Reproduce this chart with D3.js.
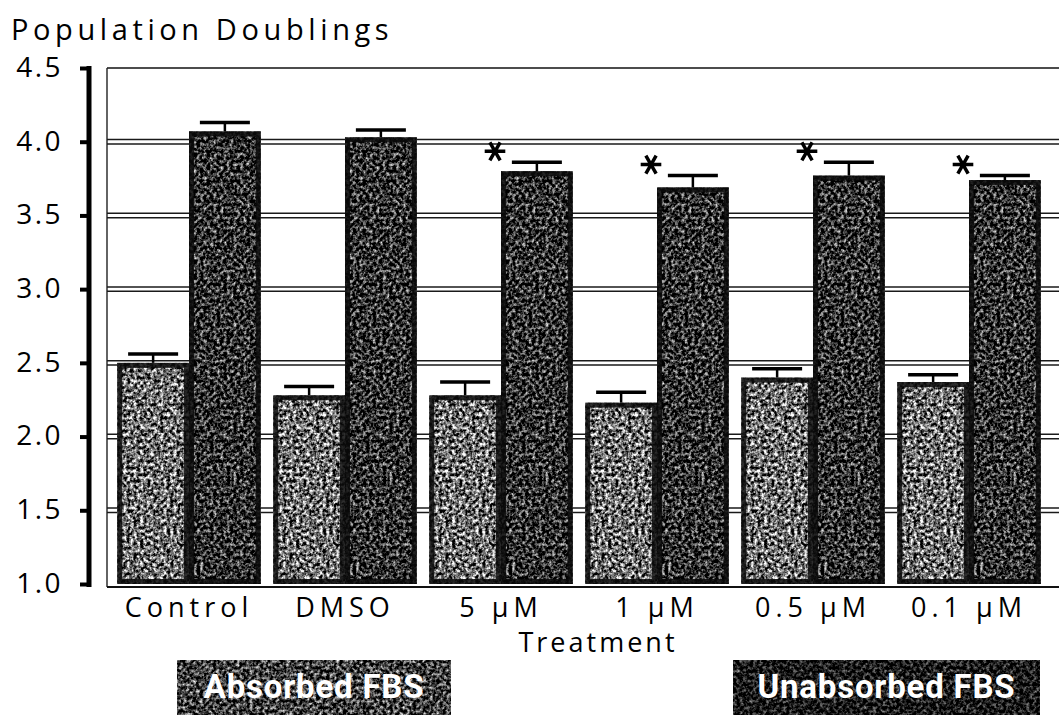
<!DOCTYPE html>
<html><head><meta charset="utf-8">
<script src="https://cdn.jsdelivr.net/npm/d3@7"></script>
<style>body{margin:0;background:#fff}svg{display:block}</style>
</head><body>
<svg id="c" width="1059" height="715"></svg>
<script>
const categories = ["Control", "DMSO", "5 \u00b5M", "1 \u00b5M", "0.5 \u00b5M", "0.1 \u00b5M"];
const absorbed = [2.50, 2.28, 2.28, 2.23, 2.40, 2.37];
const absorbedErr = [0.06, 0.06, 0.09, 0.07, 0.06, 0.05];
const unabsorbed = [4.07, 4.03, 3.80, 3.69, 3.77, 3.74];
const unabsorbedErr = [0.06, 0.05, 0.06, 0.08, 0.09, 0.03];
const significant = [false, false, true, true, true, true];
const yTicks = [1.0, 1.5, 2.0, 2.5, 3.0, 3.5, 4.0, 4.5];
const seriesNames = ["Absorbed FBS", "Unabsorbed FBS"];

const svg = d3.select("#c");
const FONT = "'Open Sans', 'DejaVu Sans', sans-serif";

// noise filters
const defs = svg.append("defs");
function noiseFilter(id, a, b, freq, seed) {
  const f = defs.append("filter").attr("id", id).attr("x", 0).attr("y", 0).attr("width", "100%").attr("height", "100%")
    .attr("color-interpolation-filters", "sRGB");
  f.append("feTurbulence").attr("type", "fractalNoise").attr("baseFrequency", freq).attr("numOctaves", 3).attr("seed", seed).attr("result", "t");
  const row = `${a} 0 0 0 ${b}`;
  f.append("feColorMatrix").attr("in", "t").attr("type", "matrix")
    .attr("values", `${row} ${row} ${row} 0 0 0 0 1`).attr("result", "g");
  f.append("feComposite").attr("in", "g").attr("in2", "SourceGraphic").attr("operator", "in");
}
noiseFilter("nLight", 2.4, -0.77, 0.3, 4);
noiseFilter("nDark", 2.0, -0.82, 0.3, 9);
noiseFilter("nLegA", 1.9, -0.7, 0.3, 2);
noiseFilter("nLegB", 1.3, -0.55, 0.3, 7);

const y = d3.scaleLinear().domain([1, 4.5]).range([584, 68]);
const x = d3.scaleBand().domain(categories).range([111, 1047]).paddingInner(0.08).paddingOuter(0.04);
const sub = d3.scaleBand().domain(seriesNames).range([0, x.bandwidth()]);

// frame
const frameLeft = 107, frameRight = 1062;
svg.append("line").attr("x1", frameLeft).attr("x2", frameRight).attr("y1", y(4.5)).attr("y2", y(4.5))
  .attr("stroke", "#111").attr("stroke-width", 1.6);
svg.append("line").attr("x1", frameLeft).attr("x2", frameLeft).attr("y1", y(4.5)).attr("y2", y(1) + 3)
  .attr("stroke", "#222").attr("stroke-width", 1.4);
svg.append("line").attr("x1", frameLeft).attr("x2", frameRight).attr("y1", y(1) + 3).attr("y2", y(1) + 3)
  .attr("stroke", "#111").attr("stroke-width", 2);

// double gridlines
const grid = svg.append("g");
yTicks.filter(t => t > 1 && t < 4.5).forEach(t => {
  [-2.2, 2.2].forEach(o => {
    grid.append("line").attr("x1", frameLeft).attr("x2", frameRight)
      .attr("y1", y(t) + o).attr("y2", y(t) + o).attr("stroke", "#1a1a1a").attr("stroke-width", 1.5);
  });
});

// y axis
const yAxis = d3.axisLeft(y).tickValues(yTicks).tickFormat(d3.format(".1f")).tickSize(9).tickPadding(17);
const ga = svg.append("g").attr("transform", "translate(89,0)").call(yAxis);
ga.select(".domain").attr("stroke", "#000").attr("stroke-width", 5).attr("d", `M0,${y(4.5) - 2}V${y(1) + 3}`);
ga.selectAll(".tick line").attr("stroke", "#000").attr("stroke-width", 4);
ga.selectAll(".tick text").attr("font-family", FONT).attr("font-size", 28).attr("fill", "#000")
  .attr("letter-spacing", 2.5).attr("dy", "0.3em");

// bars
const groups = svg.append("g").selectAll("g").data(categories).join("g")
  .attr("transform", d => `translate(${x(d)},0)`);

function drawBars(vals, errs, name, filt) {
  const bw = sub.bandwidth();
  groups.append("rect").attr("x", sub(name)).attr("width", bw)
    .attr("y", (d, i) => y(vals[i])).attr("height", (d, i) => y(1) - y(vals[i]))
    .attr("fill", "#777").attr("filter", `url(#${filt})`);
  groups.append("rect").attr("x", sub(name) + 2.5).attr("width", bw - 5)
    .attr("y", (d, i) => y(vals[i]) + 2.5).attr("height", (d, i) => y(1) - y(vals[i]) - 5)
    .attr("fill", "none").attr("stroke", "#0a0a0a").attr("stroke-width", 5).attr("stroke-opacity", 0.85);
  // error bars
  const cx = sub(name) + bw / 2;
  groups.append("line").attr("x1", cx).attr("x2", cx)
    .attr("y1", (d, i) => y(vals[i])).attr("y2", (d, i) => y(vals[i] + errs[i]))
    .attr("stroke", "#000").attr("stroke-width", 2.5);
  groups.append("line").attr("x1", cx - 25).attr("x2", cx + 25)
    .attr("y1", (d, i) => y(vals[i] + errs[i])).attr("y2", (d, i) => y(vals[i] + errs[i]))
    .attr("stroke", "#000").attr("stroke-width", 3.5);
}
drawBars(absorbed, absorbedErr, seriesNames[0], "nLight");
drawBars(unabsorbed, unabsorbedErr, seriesNames[1], "nDark");

// asterisks
groups.filter((d, i) => significant[i]).append("path")
  .attr("d", d3.symbol(d3.symbolAsterisk, 300)())
  .attr("transform", d => {
    const i = categories.indexOf(d);
    return `translate(${sub(seriesNames[1]) - 6},${y(unabsorbed[i] + unabsorbedErr[i]) - 11}) rotate(90)`;
  })
  .attr("stroke", "#000").attr("stroke-width", 3.5).attr("fill", "none");

// x labels
svg.append("g").selectAll("text").data(categories).join("text")
  .attr("x", d => x(d) + x.bandwidth() / 2).attr("y", 617)
  .attr("text-anchor", "middle").attr("font-family", FONT).attr("font-size", 27)
  .attr("letter-spacing", 5)
  .text(d => d);

// titles
svg.append("text").attr("x", 11).attr("y", 40).attr("font-family", FONT).attr("font-size", 29)
  .attr("letter-spacing", 4.6).text("Population Doublings");
svg.append("text").attr("x", 598).attr("y", 652).attr("text-anchor", "middle").attr("font-family", FONT)
  .attr("font-size", 27).attr("letter-spacing", 3).text("Treatment");

// legend boxes
const legend = [
  {name: seriesNames[0], x0: 177, x1: 451, filt: "nLegA"},
  {name: seriesNames[1], x0: 733, x1: 1040, filt: "nLegB"}
];
const lg = svg.append("g").selectAll("g").data(legend).join("g");
lg.append("rect").attr("x", d => d.x0).attr("y", 660).attr("width", d => d.x1 - d.x0).attr("height", 60)
  .attr("fill", "#333").attr("filter", d => `url(#${d.filt})`);
lg.append("text").attr("x", d => (d.x0 + d.x1) / 2).attr("y", 698).attr("text-anchor", "middle")
  .attr("font-family", "Roboto, 'DejaVu Sans', sans-serif").attr("font-weight", "bold").attr("font-size", 33)
  .attr("letter-spacing", 0.8)
  .attr("fill", "#fff").text(d => d.name);
</script>
</body></html>
